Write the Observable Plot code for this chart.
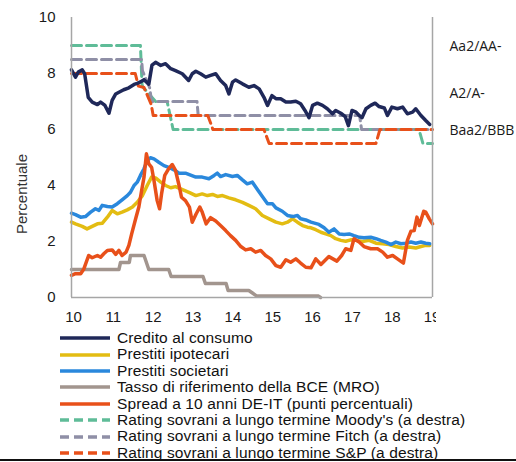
<!DOCTYPE html>
<html><head><meta charset="utf-8">
<script src="https://cdn.jsdelivr.net/npm/d3@7"></script>
<script src="https://cdn.jsdelivr.net/npm/@observablehq/plot@0.6"></script>
<style>
body{margin:0;background:#fff;font-family:"Liberation Sans",Arial,sans-serif;}
#wrap{position:relative;width:516px;height:462px;overflow:hidden;}
#legend{padding-left:60px;font-size:15.5px;letter-spacing:0.12px;line-height:16.4px;color:#111;}
#legend .row{display:flex;align-items:center;height:16.4px;white-space:nowrap;}
#legend svg{margin-right:7px;flex:none;}
#bottomline{position:absolute;left:0;top:459px;width:516px;height:2px;background:#111;}
</style></head>
<body><div id="wrap"><div id="chart"></div><div id="legend"></div><div id="bottomline"></div></div>
<script>
// x values: two-digit year with decimals (10 = 2010)
const consumo = [[10.00,8.13],[10.10,7.87],[10.17,8.05],[10.27,8.13],[10.33,7.99],[10.42,7.15],[10.52,6.98],[10.65,6.89],[10.73,6.98],[10.84,6.86],[10.94,6.58],[11.02,7.04],[11.11,7.27],[11.19,7.33],[11.31,7.42],[11.44,7.49],[11.57,7.61],[11.65,7.65],[11.73,7.70],[11.82,7.78],[11.94,7.62],[12.02,8.30],[12.11,8.40],[12.24,8.29],[12.36,8.35],[12.49,8.17],[12.61,8.10],[12.78,7.99],[12.94,7.75],[13.03,7.99],[13.12,8.08],[13.24,7.99],[13.37,7.87],[13.49,7.93],[13.62,7.99],[13.74,7.75],[13.87,7.57],[13.95,7.27],[14.04,7.69],[14.12,7.77],[14.29,7.63],[14.45,7.51],[14.58,7.57],[14.71,7.45],[14.83,7.15],[14.92,6.86],[15.03,7.21],[15.13,7.10],[15.25,7.10],[15.38,6.98],[15.50,6.98],[15.63,7.01],[15.75,6.92],[15.86,6.68],[15.96,6.42],[16.05,6.86],[16.17,6.94],[16.30,6.86],[16.42,6.74],[16.55,6.56],[16.63,6.68],[16.76,6.58],[16.87,6.46],[16.95,6.14],[17.04,6.68],[17.14,6.62],[17.22,6.50],[17.29,6.42],[17.39,6.74],[17.51,6.86],[17.62,6.94],[17.72,6.82],[17.85,6.77],[17.93,6.50],[18.04,6.80],[18.18,6.74],[18.31,6.80],[18.43,6.56],[18.56,6.62],[18.64,6.74],[18.77,6.50],[18.89,6.32],[18.99,6.18]];
const ipotecari = [[10.00,2.69],[10.10,2.63],[10.27,2.54],[10.39,2.45],[10.52,2.54],[10.65,2.63],[10.77,2.65],[10.90,2.87],[11.02,3.11],[11.15,2.99],[11.27,3.05],[11.40,3.13],[11.53,3.23],[11.65,3.40],[11.78,3.64],[11.90,4.00],[12.01,4.30],[12.11,4.27],[12.24,4.12],[12.36,4.00],[12.49,3.92],[12.61,3.96],[12.74,3.88],[12.86,3.81],[12.99,3.73],[13.12,3.64],[13.28,3.70],[13.41,3.64],[13.54,3.68],[13.66,3.61],[13.79,3.64],[13.95,3.56],[14.12,3.49],[14.29,3.40],[14.45,3.29],[14.62,3.17],[14.79,2.93],[14.96,2.81],[15.13,2.69],[15.29,2.63],[15.42,2.69],[15.55,2.81],[15.67,2.69],[15.80,2.57],[15.92,2.51],[16.01,2.49],[16.13,2.42],[16.26,2.33],[16.38,2.27],[16.51,2.21],[16.63,2.10],[16.76,2.04],[16.88,2.01],[17.01,2.06],[17.14,2.04],[17.30,2.00],[17.47,2.04],[17.64,1.94],[17.81,1.92],[17.97,1.89],[18.14,1.82],[18.31,1.77],[18.47,1.80],[18.64,1.77],[18.77,1.82],[18.89,1.86],[18.99,1.86]];
const societari = [[10.00,3.01],[10.10,2.96],[10.23,2.87],[10.35,2.89],[10.48,3.05],[10.60,3.17],[10.69,3.11],[10.77,3.29],[10.90,3.25],[11.02,3.23],[11.15,3.35],[11.27,3.49],[11.40,3.64],[11.48,3.76],[11.57,4.00],[11.65,4.12],[11.73,4.36],[11.82,4.60],[11.90,4.89],[11.98,4.99],[12.07,4.95],[12.19,4.83],[12.32,4.71],[12.44,4.65],[12.57,4.56],[12.70,4.44],[12.86,4.44],[12.99,4.37],[13.12,4.30],[13.28,4.30],[13.45,4.24],[13.58,4.36],[13.66,4.44],[13.74,4.32],[13.87,4.39],[14.04,4.32],[14.16,4.36],[14.29,4.20],[14.41,4.06],[14.54,4.12],[14.67,3.85],[14.79,3.61],[14.92,3.35],[15.04,3.35],[15.13,3.20],[15.29,3.08],[15.42,2.93],[15.55,2.89],[15.67,2.93],[15.75,2.81],[15.88,2.77],[16.01,2.69],[16.21,2.61],[16.34,2.49],[16.46,2.33],[16.59,2.45],[16.72,2.27],[16.84,2.25],[16.97,2.27],[17.09,2.21],[17.22,2.15],[17.34,2.13],[17.51,2.15],[17.64,2.10],[17.76,2.04],[17.89,1.98],[18.02,1.89],[18.14,1.98],[18.27,1.92],[18.39,1.94],[18.52,1.98],[18.64,1.94],[18.77,1.98],[18.89,1.94],[18.99,1.92]];
const mro = [[10.00,1.00],[11.19,1.00],[11.23,1.25],[11.45,1.25],[11.48,1.50],[11.82,1.50],[11.88,1.25],[11.94,1.00],[12.44,1.00],[12.50,0.75],[13.30,0.75],[13.36,0.50],[13.88,0.50],[13.93,0.25],[14.45,0.25],[14.55,0.15],[14.65,0.05],[16.20,0.05],[16.25,0.00]];
const spread = [[10.00,0.79],[10.10,0.85],[10.23,0.85],[10.31,1.02],[10.43,1.50],[10.52,1.42],[10.65,1.50],[10.73,1.44],[10.81,1.56],[10.90,1.68],[11.02,1.70],[11.11,1.54],[11.19,1.68],[11.27,1.50],[11.37,1.62],[11.44,1.86],[11.51,2.27],[11.61,2.81],[11.69,3.23],[11.76,3.82],[11.82,4.30],[11.88,5.13],[11.94,4.77],[12.01,4.65],[12.07,4.18],[12.15,3.46],[12.21,3.17],[12.26,3.70],[12.34,4.36],[12.44,4.60],[12.53,4.75],[12.61,4.54],[12.70,4.00],[12.76,3.58],[12.86,3.46],[12.96,3.23],[13.03,2.69],[13.13,2.99],[13.22,3.23],[13.28,3.05],[13.38,2.63],[13.49,2.85],[13.62,2.73],[13.74,2.57],[13.87,2.39],[13.99,2.21],[14.12,2.04],[14.25,1.82],[14.37,1.70],[14.50,1.74],[14.62,1.62],[14.75,1.68],[14.87,1.50],[15.00,1.38],[15.13,1.14],[15.25,1.08],[15.38,1.35],[15.50,1.26],[15.63,1.38],[15.75,1.23],[15.88,1.08],[16.01,1.06],[16.13,1.38],[16.26,1.18],[16.46,1.46],[16.66,1.30],[16.78,1.50],[16.88,1.74],[17.01,1.68],[17.09,2.10],[17.22,1.98],[17.34,1.82],[17.51,1.74],[17.68,1.74],[17.81,1.62],[17.93,1.44],[18.06,1.50],[18.18,1.38],[18.33,1.23],[18.43,2.04],[18.52,2.37],[18.60,2.39],[18.67,2.87],[18.73,2.57],[18.84,3.08],[18.89,3.05],[18.98,2.81],[19.06,2.63]];
const moodys = [[10.00,9.0],[11.73,9.0],[11.77,7.6],[11.80,7.5],[12.11,7.0],[12.40,7.0],[12.55,6.0],[18.72,6.0],[18.82,5.5],[19.06,5.5]];
const fitch = [[10.00,8.5],[11.76,8.5],[11.78,8.1],[11.96,7.5],[12.01,7.0],[13.15,7.0],[13.18,6.5],[17.23,6.5],[17.28,6.0],[19.06,6.0]];
const sp = [[10.00,8.0],[11.60,8.0],[11.68,7.55],[11.82,7.5],[12.00,6.9],[12.05,6.5],[13.42,6.5],[13.50,6.2],[13.55,6.0],[14.83,6.0],[14.96,5.5],[17.64,5.5],[17.74,6.0],[19.06,6.0]];

const yearTicks = [10,11,12,13,14,15,16,17,18,19];
const leftTicks = [0,2,4,6,8,10];
const ratingPos = [8.95, 7.3, 5.97];
const ratingLabels = ["Aa2/AA-", "A2/A-", "Baa2/BBB"];
const yLabel = "Percentuale";

const series = [
  {name:"Credito al consumo", data:consumo, color:"#1f2859", dash:null},
  {name:"Prestiti ipotecari", data:ipotecari, color:"#e3bc12", dash:null},
  {name:"Prestiti societari", data:societari, color:"#2a88dc", dash:null},
  {name:"Tasso di riferimento della BCE (MRO)", data:mro, color:"#a2958e", dash:null},
  {name:"Spread a 10 anni DE-IT (punti percentuali)", data:spread, color:"#e8501a", dash:null},
  {name:"Rating sovrani a lungo termine Moody's (a destra)", data:moodys, color:"#5fbc98", dash:"10,5"},
  {name:"Rating sovrani a lungo termine Fitch (a destra)", data:fitch, color:"#8f8fa6", dash:"10,5"},
  {name:"Rating sovrani a lungo termine S&P (a destra)", data:sp, color:"#e8501a", dash:"10,5"}
];

const solid = series.filter(s => !s.dash);
const dashed = series.filter(s => s.dash);
const axisColor = "#a6a6a6";

const plot = Plot.plot({
  width: 516, height: 330,
  marginLeft: 71, marginRight: 84, marginTop: 17, marginBottom: 33,
  style: {fontFamily: '"Liberation Sans", Arial, sans-serif', fontSize: "15px", color: "#1a1a1a", background: "transparent", overflow: "visible"},
  x: {domain: [10, 19.06]},
  y: {domain: [0, 10]},
  marks: [
    ...dashed.map(s => Plot.line(s.data, {x: d => d[0], y: d => d[1], stroke: s.color, strokeWidth: 3, strokeDasharray: s.dash, strokeLinejoin: "round"})),
    ...solid.map(s => Plot.line(s.data, {x: d => d[0], y: d => d[1], stroke: s.color, strokeWidth: 3.5, strokeLinejoin: "round"})),
    Plot.ruleX([10], {stroke: axisColor, strokeWidth: 1.5}),
    Plot.ruleX([19.06], {stroke: axisColor, strokeWidth: 1.5}),
    Plot.ruleY([0], {stroke: axisColor, strokeWidth: 1.5}),
    Plot.axisY({ticks: leftTicks, tickSize: 0, tickPadding: 16, label: null, fontSize: 15}),
    Plot.axisY({anchor: "right", ticks: ratingPos, tickFormat: (d, i) => ratingLabels[i], tickSize: 0, tickPadding: 17, label: null, fontSize: 14, fontFamily: '"Open Sans", sans-serif', textAnchor: "start"}),
    Plot.axisX({ticks: yearTicks, tickFormat: d => String(d), tickSize: 0, tickPadding: 14, label: null, fontSize: 15, dx: 2})
  ]
});
document.getElementById("chart").appendChild(plot);

const svg = d3.select(plot);
// y-axis title
svg.append("text").attr("transform", "translate(27,194) rotate(-90)")
  .attr("text-anchor", "middle").attr("font-size", 15).attr("fill", "#333")
  .text(yLabel);

// clip the x tick labels at the right edge like the original
svg.append("defs").append("clipPath").attr("id", "xclip")
  .append("rect").attr("x", 0).attr("y", 0).attr("width", 436).attr("height", 330);
const clipG = svg.append("g").attr("clip-path", "url(#xclip)");
svg.selectAll("g[aria-label='x-axis tick label']").each(function() { clipG.node().appendChild(this); });

// legend
const leg = d3.select("#legend");
series.forEach(s => {
  const row = leg.append("div").attr("class", "row");
  const sv = row.append("svg").attr("width", 50).attr("height", 16);
  sv.append("line").attr("x1", 0).attr("x2", 50).attr("y1", 8).attr("y2", 8)
    .attr("stroke", s.color).attr("stroke-width", 3.5)
    .attr("stroke-dasharray", s.dash ? "9,5" : null);
  row.append("span").text(s.name);
});
</script></body></html>
